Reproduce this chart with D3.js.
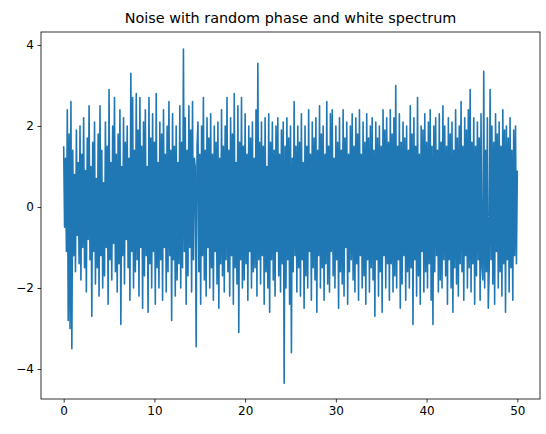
<!DOCTYPE html>
<html><head><meta charset="utf-8">
<script src="https://cdn.jsdelivr.net/npm/d3@7"></script>
<style>body{margin:0;background:#fff}svg{font-family:"DejaVu Sans",sans-serif}</style>
</head><body><svg id="c" width="546" height="434"></svg>
<script>
const title = "Noise with random phase and white spectrum";
const timeStep = 0.1;
const noiseValues = [
1.5,-0.5,1.2,-1.1,2.4,-2.8,1.8,-3.0,2.6,-3.5,1.4,-1.2,0.8,-1.6,1.9,-0.7,1.1,-1.4,2.0,-1.8,
1.3,-1.0,2.2,-1.5,0.9,-2.1,1.7,-0.8,2.5,-1.3,1.0,-2.7,1.6,-1.1,2.1,-1.9,0.7,-1.5,1.8,-2.2,
2.5,-1.2,1.4,-2.0,0.6,-1.7,2.1,-1.0,1.5,-2.4,2.9,-1.3,1.1,-1.8,2.0,-0.9,2.7,-1.6,1.3,-2.1,
1.8,-1.4,2.4,-2.9,1.0,-1.2,2.2,-1.9,1.6,-0.8,2.0,-1.5,1.2,-2.3,3.3,-1.1,2.7,-2.0,1.4,-1.6,
2.8,-1.3,1.9,-2.2,2.7,-1.0,1.5,-2.5,2.1,-1.7,2.4,-1.2,1.0,-2.6,2.7,-1.4,1.7,-2.0,2.3,-1.1,
1.6,-2.4,2.8,-1.5,1.1,-2.0,2.1,-1.3,1.8,-2.3,2.4,-1.0,1.3,-2.1,2.0,-1.6,2.6,-1.2,1.4,-2.8,
2.3,-1.3,1.5,-2.2,2.0,-1.8,1.1,-1.4,2.5,-2.0,1.6,-1.5,3.9,-1.1,2.2,-2.4,1.4,-1.7,2.5,-1.0,
1.9,-2.1,2.6,-1.3,1.2,1.0,-3.45,1.5,2.1,-1.6,1.3,-2.4,2.0,-1.2,2.7,-1.8,1.4,-2.2,2.2,-1.0,
1.7,-2.0,2.3,-1.5,1.3,-2.3,2.0,-1.1,1.6,-1.9,2.1,-2.5,1.2,-1.4,2.4,-1.7,1.5,-2.1,2.0,-1.3,
2.7,-1.6,1.4,-2.2,2.2,-1.2,1.8,-2.4,2.8,-1.5,1.1,-1.9,2.5,-3.1,1.6,-1.3,2.7,-2.0,1.5,-1.8,
2.3,-1.4,1.3,-2.3,2.0,-1.1,1.7,-2.0,2.1,-1.6,1.2,-1.5,2.4,-2.2,3.55,-1.3,1.6,-1.9,2.1,-1.2,
1.5,-2.4,2.2,-1.6,1.0,-2.0,2.3,-2.6,1.6,-1.3,2.1,-1.8,1.4,-2.2,2.0,-1.1,2.2,-1.7,1.3,-2.1,
1.9,-1.4,2.1,-4.35,1.5,-2.0,2.2,-1.3,1.7,-2.4,2.0,-3.6,1.2,-1.6,2.6,-1.2,1.5,-2.1,2.0,-1.5,
1.6,-2.2,2.3,-1.3,1.1,-2.5,2.0,-1.7,1.5,-2.0,2.4,-1.1,1.3,-2.3,2.1,-1.5,1.7,-1.8,2.2,-2.6,
1.4,-1.2,2.5,-2.0,1.8,-1.5,2.0,-2.3,1.3,-1.4,2.6,-1.9,1.5,-2.1,2.3,-1.1,2.4,-1.7,1.2,-2.0,
2.0,-1.3,1.6,-2.5,2.2,-1.6,1.4,-1.9,2.4,-2.2,1.7,-1.0,2.1,-2.4,1.3,-1.6,2.0,-1.3,2.3,-1.8,
1.5,-2.1,2.2,-1.4,1.8,-2.3,2.4,-1.2,1.3,-2.0,2.1,-1.7,1.6,-2.4,2.3,-1.3,1.7,-2.1,2.0,-1.5,
2.2,-1.8,1.4,-2.7,2.1,-1.3,1.7,-2.2,2.0,-1.6,1.5,-2.6,2.4,-1.2,1.9,-2.0,2.2,-1.4,1.6,-2.3,
2.4,-1.4,1.8,-2.1,2.2,-1.7,3.0,-2.0,1.5,-1.3,2.3,-2.5,1.6,-1.9,2.1,-1.2,1.7,-2.3,2.0,-1.6,
1.4,-2.0,2.5,-1.5,1.8,-2.9,2.2,-1.3,1.5,-2.2,2.7,-1.7,1.3,-2.4,2.0,-1.1,1.9,-2.1,2.3,-1.6,
1.6,-2.0,2.1,-1.4,2.4,-2.3,1.5,-2.9,2.0,-1.6,2.2,-1.2,1.4,-2.1,2.3,-1.8,1.6,-2.0,2.5,-1.3,
2.0,-1.7,1.5,-2.4,2.2,-1.3,1.8,-2.0,2.1,-2.6,1.4,-1.5,2.4,-1.9,1.7,-2.2,2.0,-1.4,2.6,-1.6,
1.5,-2.3,2.2,-1.2,1.9,-2.0,2.4,-1.5,2.9,-2.1,1.6,-1.4,2.2,-2.4,1.5,-1.7,2.1,-1.3,1.7,-2.3,
2.3,-1.5,-1.8,3.35,-2.0,1.4,-1.6,2.2,-2.5,-1.5,2.9,-1.3,2.0,-1.9,1.6,-2.4,2.3,-1.1,1.8,-2.0,
2.1,-1.6,1.5,-2.2,2.4,-1.4,1.9,-2.6,2.0,-1.3,1.7,-2.1,2.2,-1.5,1.4,-2.3,1.9,-1.2,2.0,-1.4,
0.9];
const xTicks = [0,10,20,30,40,50];
const yTicks = [-4,-2,0,2,4];

const svg = d3.select("#c");
const m = {l:41, r:540, t:32, b:399};
const x = d3.scaleLinear().domain([-2.5, 52.5]).range([m.l, m.r]);
const y = d3.scaleLinear().domain([-4.74, 4.32]).range([m.b, m.t]);
const data = noiseValues.map((v,i)=>[i*timeStep, v]);

svg.append("path").datum(data)
  .attr("fill","none").attr("stroke","#1f77b4").attr("stroke-width",1.6)
  .attr("stroke-linejoin","round")
  .attr("d", d3.line().x(d=>x(d[0])).y(d=>y(d[1])));

svg.append("rect").attr("x",m.l).attr("y",m.t).attr("width",m.r-m.l).attr("height",m.b-m.t)
  .attr("fill","none").attr("stroke","#000").attr("stroke-width",0.8);

const xa = svg.append("g").attr("transform",`translate(0,${m.b})`)
  .call(d3.axisBottom(x).tickValues(xTicks).tickSize(3.5).tickPadding(3.5).tickFormat(d3.format("d")));
const ya = svg.append("g").attr("transform",`translate(${m.l},0)`)
  .call(d3.axisLeft(y).tickValues(yTicks).tickSize(3.5).tickPadding(3.5).tickFormat(d=>d<0?"\u2212"+Math.abs(d):d));
[xa,ya].forEach(a=>{a.select(".domain").remove();a.selectAll("text").attr("font-size",12).attr("fill","#000").attr("font-family","DejaVu Sans");a.selectAll("line").attr("stroke","#000").attr("stroke-width",0.8);});

svg.append("text").attr("x",(m.l+m.r)/2).attr("y",23).attr("text-anchor","middle")
  .attr("font-size",14.4).attr("font-family","DejaVu Sans").text(title);
</script></body></html>
